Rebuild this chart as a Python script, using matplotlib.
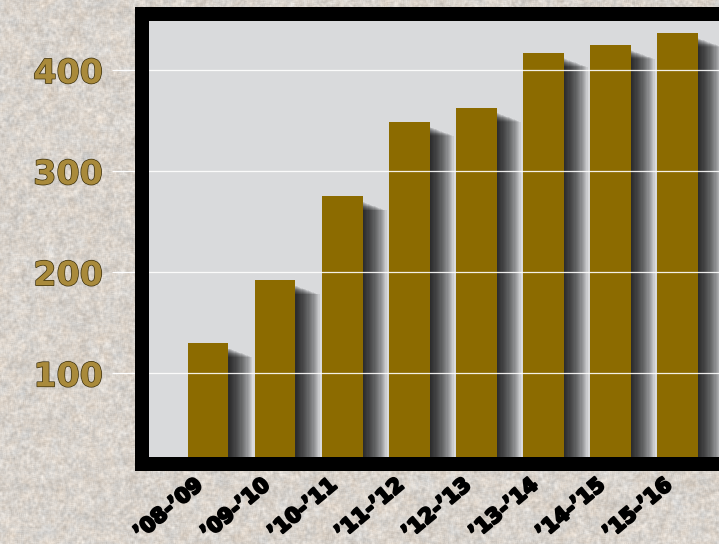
import numpy as np
import matplotlib
matplotlib.use("Agg")
import matplotlib.pyplot as plt
import matplotlib.patheffects as pe
from matplotlib.transforms import ScaledTranslation

# data
seasons = ["’08-’09", "’09-’10", "’10-’11", "’11-’12",
           "’12-’13", "’13-’14", "’14-’15", "’15-’16"]
counts = [130, 192, 275, 349, 363, 417, 425, 437]
yticks = [100, 200, 300, 400]

W, H = 719, 544
fig = plt.figure(figsize=(W / 100, H / 100), dpi=100)


def blur(a, r):
    out = np.zeros_like(a)
    n = 0
    for dy in range(-r, r + 1):
        for dx in range(-r, r + 1):
            out += np.roll(np.roll(a, dy, 0), dx, 1)
            n += 1
    return out / n


# stone-like background (decoration only)
rng = np.random.default_rng(7)
fine = blur(rng.random((H, W)), 1)
mid = blur(rng.random((H, W)), 3)
warm = blur(rng.random((H, W)), 4)
t = (fine - 0.5) / fine.std() * 0.025 + (mid - 0.5) / mid.std() * 0.015
img = np.empty((H, W, 3))
base = np.array([217, 211, 204]) / 255
for c in range(3):
    img[:, :, c] = base[c] + t
w = (warm - 0.5) / warm.std()
img[:, :, 0] += w * 0.006
img[:, :, 2] -= w * 0.006
img = np.clip(img, 0, 1)

bg = fig.add_axes([0, 0, 1, 1], zorder=0)
bg.imshow(img, aspect="auto")
bg.axis("off")

ax = fig.add_axes([142 / W, 80 / H, (760 - 142) / W, 450 / H], zorder=1)
ax.set_facecolor("#d9dadc")

x = np.arange(len(seasons))
width = 0.6
px_x = 1 / 67.0   # data units per pixel, x
px_y = 1 / 1.011  # data units per pixel, y

# soft drop shadow on the right of each bar
for k in range(1, 21):
    ax.bar(x + k * 1.2 * px_x, np.array(counts) - (5 + k * 0.45) * px_y, width,
           color="black", alpha=0.07, linewidth=0, zorder=1)

ax.bar(x, counts, width, color="#8c6b00", linewidth=0, zorder=1.2)

ax.set_xlim(-0.99, 8.23)
ax.set_ylim(10.4, 455.5)

for s in ax.spines.values():
    s.set_linewidth(10.08)
    s.set_color("black")
    s.set_capstyle("projecting")

ax.set_yticks(yticks)
ax.yaxis.grid(True, color="white", linewidth=0.9, alpha=0.9)
ax.set_axisbelow("line")
ax.tick_params(axis="y", length=21.6, width=0.9, color="white", pad=6.5,
               labelsize=24, labelcolor="#a98a3b")
for lab in ax.get_yticklabels():
    lab.set_fontweight("bold")
    lab.set_path_effects([pe.withStroke(linewidth=1.0, foreground="#3a2e0c")])

ax.set_xticks(x)
ax.set_xticklabels(seasons, fontsize=15, fontweight="bold", rotation=40,
                   ha="right", va="center", rotation_mode="anchor")
ax.tick_params(axis="x", length=0, pad=13)
off = ScaledTranslation(-8 / 100, 0, fig.dpi_scale_trans)
for lab in ax.get_xticklabels():
    lab.set_transform(lab.get_transform() + off)
    lab.set_path_effects([pe.withStroke(linewidth=1.6, foreground="black")])

fig.savefig("out.png", dpi=100)
